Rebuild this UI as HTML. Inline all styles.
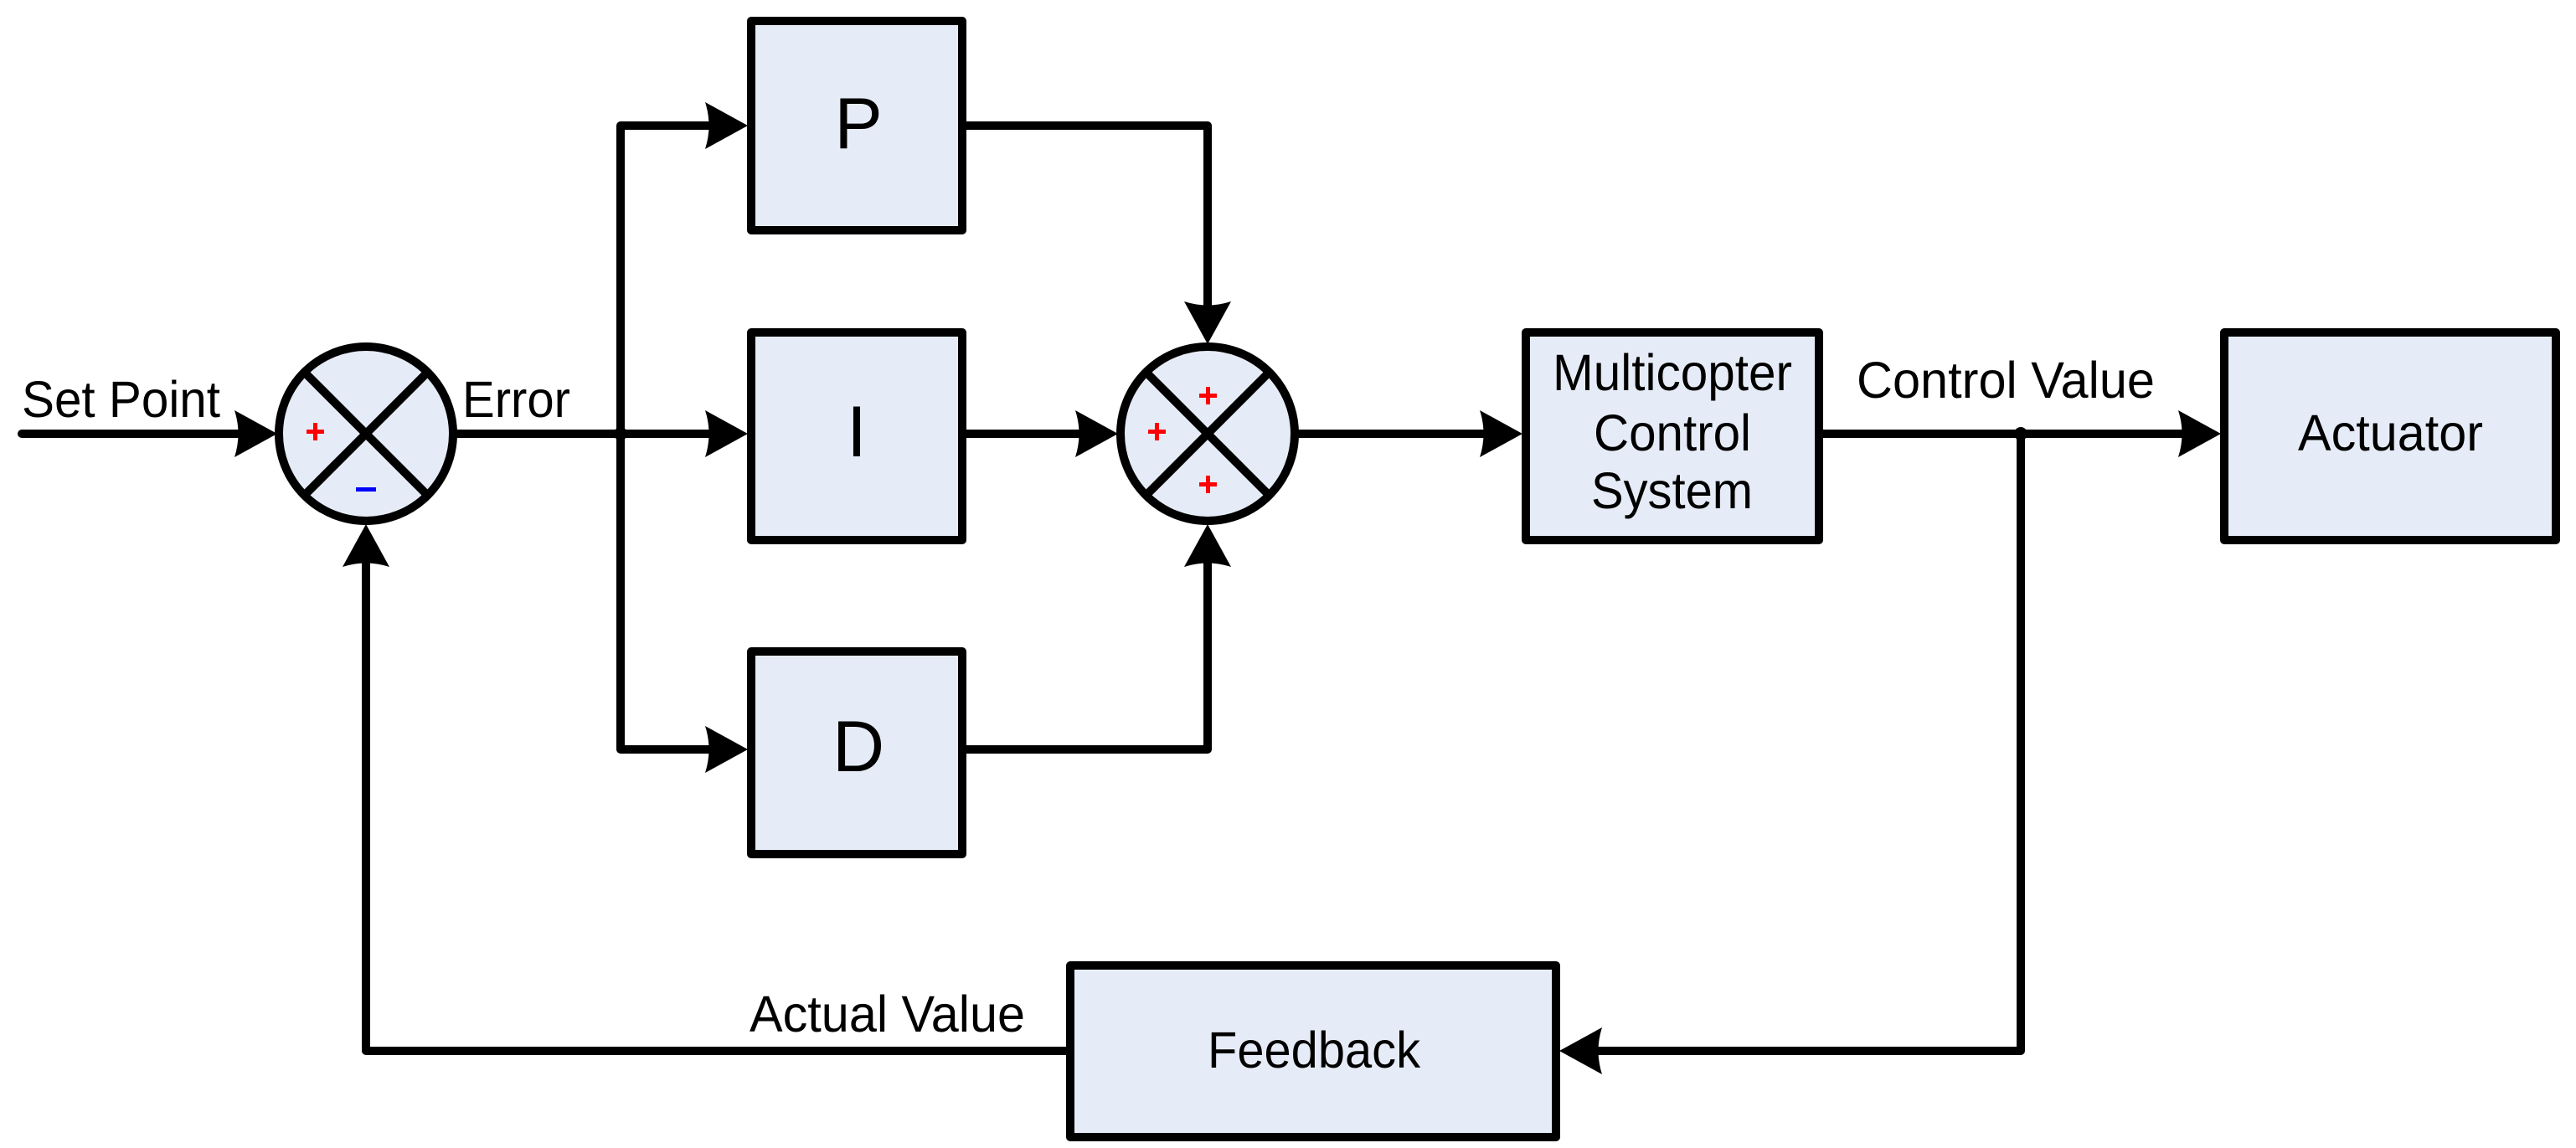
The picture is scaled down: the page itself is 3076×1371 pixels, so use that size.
<!DOCTYPE html>
<html><head><meta charset="utf-8"><style>
html,body{margin:0;padding:0;background:#fff;}
svg{display:block;}
text{font-family:"Liberation Sans",Arial,sans-serif;fill:#000;}
</style></head><body>
<svg width="3076" height="1371" viewBox="0 0 3076 1371" xmlns="http://www.w3.org/2000/svg">
<defs>
<path id="ar" d="M0,0 L-51,-28 Q-42,0 -51,28 Z" fill="#000"/>
</defs>
<g stroke="#000" stroke-width="10" fill="none" stroke-linecap="round" stroke-linejoin="round">
<line x1="26" y1="518" x2="300" y2="518"/>
<line x1="546" y1="518" x2="860" y2="518"/>
<polyline points="860,150 741,150 741,895 860,895"/>
<line x1="1153" y1="518" x2="1300" y2="518"/>
<polyline points="1149,150 1442,150 1442,380"/>
<polyline points="1149,895 1442,895 1442,660"/>
<line x1="1551" y1="518" x2="1780" y2="518"/>
<line x1="2176" y1="518" x2="2620" y2="518"/>
<polyline points="2413,518 2413,1255 1900,1255"/>
<polyline points="1275,1255 437,1255 437,660"/>
<g fill="#e6ecf7">
<rect x="897" y="25" width="252" height="250"/>
<rect x="897" y="397" width="252" height="248"/>
<rect x="897" y="778" width="252" height="242"/>
<rect x="1822" y="397" width="350" height="248"/>
<rect x="2656" y="397" width="396" height="248"/>
<rect x="1278" y="1153" width="580" height="205"/>
<circle cx="437" cy="518" r="104"/>
<circle cx="1442" cy="518" r="104"/>
</g>
<line x1="365" y1="446" x2="509" y2="590"/>
<line x1="509" y1="446" x2="365" y2="590"/>
<line x1="1370" y1="446" x2="1514" y2="590"/>
<line x1="1514" y1="446" x2="1370" y2="590"/>
</g>
<circle cx="741" cy="518" r="8" fill="#000"/>
<circle cx="2413" cy="518" r="8" fill="#000"/>
<use href="#ar" transform="translate(331,518)"/>
<use href="#ar" transform="translate(893,150)"/>
<use href="#ar" transform="translate(893,518)"/>
<use href="#ar" transform="translate(893,895)"/>
<use href="#ar" transform="translate(1335,518)"/>
<use href="#ar" transform="translate(1442,411) rotate(90)"/>
<use href="#ar" transform="translate(1442,626) rotate(-90)"/>
<use href="#ar" transform="translate(1818,518)"/>
<use href="#ar" transform="translate(2652,518)"/>
<use href="#ar" transform="translate(1862,1255) rotate(180)"/>
<use href="#ar" transform="translate(437,626) rotate(-90)"/>
<g fill="#ff0000">
<rect x="366" y="513" width="21" height="5"/><rect x="374" y="505" width="5" height="21"/>
<rect x="1432" y="470" width="21" height="5"/><rect x="1440" y="462" width="5" height="21"/>
<rect x="1371" y="513" width="21" height="5"/><rect x="1379" y="505" width="5" height="21"/>
<rect x="1432" y="576" width="21" height="5"/><rect x="1440" y="568" width="5" height="21"/>
</g>
<rect x="425" y="582" width="24" height="5" fill="#0000ff"/>
<g font-size="61">
<text x="26" y="498" textLength="237" lengthAdjust="spacingAndGlyphs">Set Point</text>
<text x="552" y="498" textLength="129" lengthAdjust="spacingAndGlyphs">Error</text>
<text x="895" y="1232" textLength="329" lengthAdjust="spacingAndGlyphs">Actual Value</text>
<text x="1442" y="1275" textLength="254" lengthAdjust="spacingAndGlyphs">Feedback</text>
<text x="1854" y="466" textLength="286" lengthAdjust="spacingAndGlyphs">Multicopter</text>
<text x="1903" y="538" textLength="188" lengthAdjust="spacingAndGlyphs">Control</text>
<text x="1900" y="607" textLength="193" lengthAdjust="spacingAndGlyphs">System</text>
<text x="2217" y="475" textLength="356" lengthAdjust="spacingAndGlyphs">Control Value</text>
<text x="2744" y="538" textLength="221" lengthAdjust="spacingAndGlyphs">Actuator</text>
</g>
<g font-size="86" text-anchor="middle">
<text x="1025" y="177">P</text>
<text x="1023" y="545">I</text>
<text x="1025" y="921">D</text>
</g>
</svg>
</body></html>
